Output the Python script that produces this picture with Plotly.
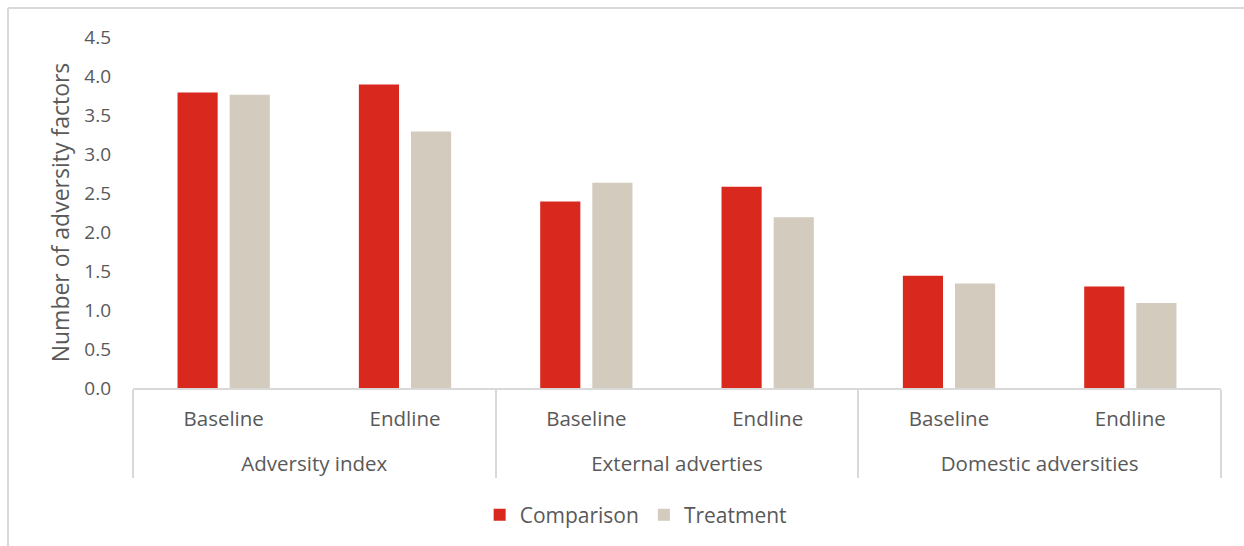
import plotly.graph_objects as go

# Grouped categories: outer group and survey round
groups = ["Adversity index", "Adversity index",
          "External adverties", "External adverties",
          "Domestic adversities", "Domestic adversities"]
rounds = ["Baseline", "Endline", "Baseline", "Endline", "Baseline", "Endline"]

comparison = [3.79, 3.89, 2.39, 2.58, 1.44, 1.30]
treatment = [3.76, 3.29, 2.63, 2.19, 1.34, 1.09]

y_ticks = [0.0, 0.5, 1.0, 1.5, 2.0, 2.5, 3.0, 3.5, 4.0, 4.5]

RED = "#D9281D"
BEIGE = "#D2CBBE"
TEXT = "#595959"
GRID = "#D9D9D9"
FONT = "Open Sans, sans-serif"

# extra line break drops the group labels below the round labels
group_labels = ["<br>" + g for g in groups]

fig = go.Figure()
fig.add_trace(go.Bar(name="Comparison", x=[group_labels, rounds], y=comparison,
                     marker=dict(color=RED, line=dict(width=0))))
fig.add_trace(go.Bar(name="Treatment", x=[group_labels, rounds], y=treatment,
                     marker=dict(color=BEIGE, line=dict(width=0))))

L, R, T, B = 133, 23, 37, 157
W, H = 1244, 546
pw, ph = W - L - R, H - T - B
fx = (8 - L) / pw
fy = (H - B - 8) / ph

fig.update_layout(
    width=W, height=H,
    margin=dict(l=L, r=R, t=T, b=B),
    paper_bgcolor="white", plot_bgcolor="white",
    barmode="group", bargap=0.425, bargroupgap=0.23,
    font=dict(family=FONT, color=TEXT, size=19),
    showlegend=True,
    legend=dict(orientation="h", x=0.462, xanchor="center", y=-0.30, yanchor="top",
                font=dict(size=21, color=TEXT), traceorder="normal"),
    xaxis=dict(type="multicategory", showline=True, linecolor=GRID, linewidth=2,
               showdividers=True, dividercolor=GRID, dividerwidth=2,
               ticks="", tickfont=dict(size=20.5, color=TEXT), showgrid=False,
               ticklabelstandoff=11, automargin=False),
    yaxis=dict(range=[0, 4.5], tickvals=y_ticks, ticktext=[f"{v:.1f}" for v in y_ticks],
               showgrid=False, zeroline=False, showline=False, ticks="",
               tickfont=dict(size=19, color=TEXT), ticklabelstandoff=21, automargin=False,
               title=dict(text="Number of adversity factors", font=dict(size=23, color=TEXT),
                          standoff=8)),
    shapes=[
        dict(type="line", xref="paper", yref="paper", x0=fx, x1=1.05, y0=fy, y1=fy,
             line=dict(color=GRID, width=2)),
        dict(type="line", xref="paper", yref="paper", x0=fx, x1=fx, y0=fy, y1=-0.6,
             line=dict(color=GRID, width=2)),
    ],
)

fig.write_html("out.html")
